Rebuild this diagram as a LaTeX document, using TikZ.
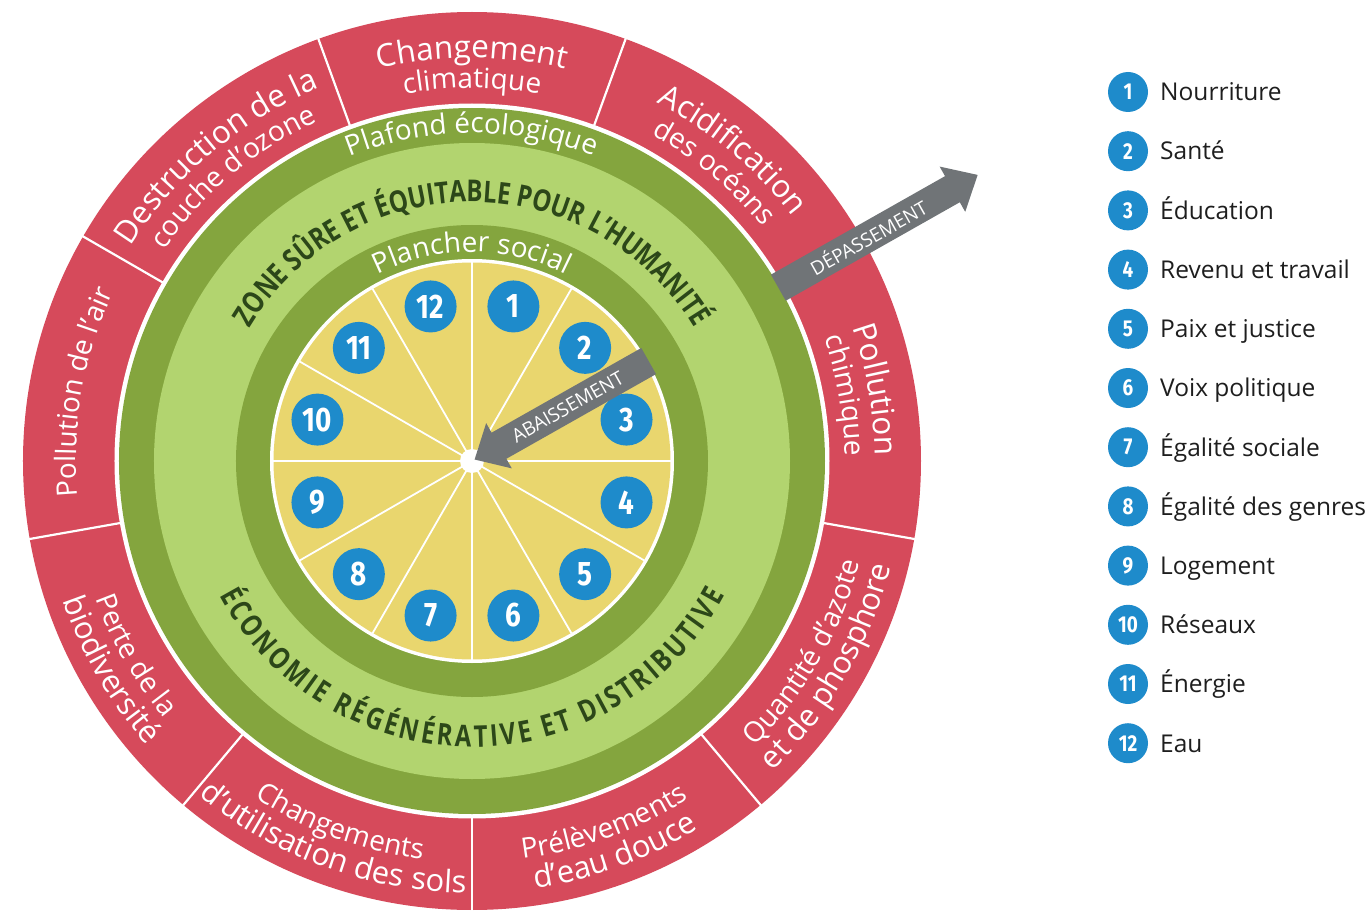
\documentclass[tikz,border=0pt]{standalone}
\usepackage{fontspec}
\setmainfont{Open Sans}
\newfontfamily\zonefont[FakeStretch=0.8]{Open Sans}
\newfontfamily\numfont[FakeStretch=0.82]{Fira Sans}
\usetikzlibrary{decorations.text}
\definecolor{redc}{HTML}{D64A5B}
\definecolor{dgreen}{HTML}{84A53E}
\definecolor{lgreen}{HTML}{B2D46F}
\definecolor{yel}{HTML}{E9D66E}
\definecolor{blu}{HTML}{1E8BCB}
\definecolor{grayc}{HTML}{707477}
\definecolor{txtgreen}{HTML}{2C4719}
\definecolor{legtxt}{HTML}{1E1E1E}
% clockwise arc text (top half): angle, radius, size, text
\newcommand\cwtext[4]{%
  \path[decorate,decoration={text along path,text align=center,
    text={|\color{white}\fontsize{#3}{#3}\selectfont|#4}}]
    ({#1+40}:#2) arc[start angle={#1+40},end angle={#1-40},radius=#2];}
% counter-clockwise arc text (bottom half)
\newcommand\ccwtext[4]{%
  \path[decorate,decoration={text along path,text align=center,
    text={|\color{white}\fontsize{#3}{#3}\selectfont|#4}}]
    ({#1-40}:#2) arc[start angle={#1-40},end angle={#1+40},radius=#2];}
\begin{document}
\begin{tikzpicture}[x=1pt,y=1pt,
  numc/.style={circle,fill=blu,text=white,minimum size=52pt,inner sep=0pt,
    font=\numfont\bfseries\fontsize{34}{34}\selectfont},
  legc/.style={circle,fill=blu,text=white,minimum size=40pt,inner sep=0pt,
    font=\numfont\bfseries\fontsize{23}{23}\selectfont},
  legt/.style={anchor=base west,inner sep=0pt,text=legtxt,
    font=\fontsize{24.5}{24.5}\selectfont},
  arrowbox/.style={fill=grayc},
  arrowtxt/.style={text=white,inner sep=0pt,font=\fontsize{19}{19}\selectfont}]
\useasboundingbox (-472,-450) rectangle (894,461);
% rings
\fill[redc] (0,0) circle[radius=449];
\fill[white] (0,0) circle[radius=357.5];
\fill[dgreen] (0,0) circle[radius=353];
\fill[lgreen] (0,0) circle[radius=318];
\fill[dgreen] (0,0) circle[radius=236];
\fill[white] (0,0) circle[radius=202];
\fill[yel] (0,0) circle[radius=198.5];
\foreach \a in {0,30,...,330} \draw[white,line width=1.8pt] (0,0) -- (\a:199);
\fill[white] (0,0) circle[radius=12];
\foreach \a in {30,70,...,350} \draw[white,line width=2.2pt] (\a:356) -- (\a:451);
% social foundation numbers
\foreach \k in {1,...,12} \node[numc] (n\k) at ({75-30*(\k-1)}:160) {\k};
% ring labels
\path[decorate,decoration={text along path,text align=center,
  text={|\color{white}\fontsize{28}{28}\selectfont|Plafond écologique}}]
  (140:328) arc[start angle=140,end angle=40,radius=328];
\path[decorate,decoration={text along path,text align=center,
  text={|\color{white}\fontsize{28}{28}\selectfont|Plancher social}}]
  (150:209) arc[start angle=150,end angle=30,radius=209];
\path[decorate,decoration={text along path,text align=center,
  text={|\color{txtgreen}\zonefont\bfseries\fontsize{30}{30}\selectfont|ZONE SÛRE ET ÉQUITABLE POUR L’HUMANITÉ}}]
  (175:259) arc[start angle=175,end angle=5,radius=259];
\path[decorate,decoration={text along path,text align={fit to path},
  text={|\color{txtgreen}\zonefont\bfseries\fontsize{30}{30}\selectfont|ÉCONOMIE RÉGÉNÉRATIVE ET DISTRIBUTIVE}}]
  (208:286) arc[start angle=208,end angle=332,radius=286];
% ecological ceiling labels (top half, clockwise)
\cwtext{90}{403}{31.5}{Changement}
\cwtext{90}{373}{28}{climatique}
\cwtext{130}{403}{31.5}{Destruction de la}
\cwtext{130}{373}{28}{couche d’ozone}
\cwtext{50}{403}{31.5}{Acidification}
\cwtext{50}{373}{28}{des océans}
\cwtext{10}{403}{31.5}{Pollution}
\cwtext{10}{373}{28}{chimique}
\cwtext{170}{396}{28}{Pollution de l’air}
% bottom half, counter-clockwise
\ccwtext{330}{401}{28}{Quantité d’azote}
\ccwtext{330}{432}{31}{et de phosphore}
\ccwtext{290}{401}{28}{Prélèvements}
\ccwtext{290}{432}{31}{d’eau douce}
\ccwtext{250}{401}{28}{Changements}
\ccwtext{250}{432}{31}{d’utilisation des sols}
\ccwtext{210}{401}{28}{Perte de la}
\ccwtext{210}{432}{31}{biodiversité}
% arrows
\begin{scope}[rotate=29.5]
  \fill[arrowbox] (203,15) -- (31,15) -- (31,26) -- (3,0) -- (31,-26) -- (31,-15) -- (203,-15) -- cycle;
  \fill[arrowbox] (352,15) -- (552,15) -- (552,26) -- (581,0) -- (552,-26) -- (552,-15) -- (352,-15) -- cycle;
\end{scope}
\node[arrowtxt,rotate=29.5] (abais) at (29.5:110) {ABAISSEMENT};
\node[arrowtxt,rotate=29.5] (depas) at (29.5:455) {DÉPASSEMENT};
% legend
\foreach \n/\t in {1/Nourriture,2/Santé,3/Éducation,4/Revenu et travail,5/Paix et justice,6/Voix politique,7/Égalité sociale,8/Égalité des genres,9/Logement,10/Réseaux,11/Énergie,12/Eau}{
  \node[legc] (l\n) at (656,{369-59.2*(\n-1)}) {\n};
  \node[legt] (t\n) at (688,{369-59.2*(\n-1)-8.8}) {\t};
}
\end{tikzpicture}
\end{document}
